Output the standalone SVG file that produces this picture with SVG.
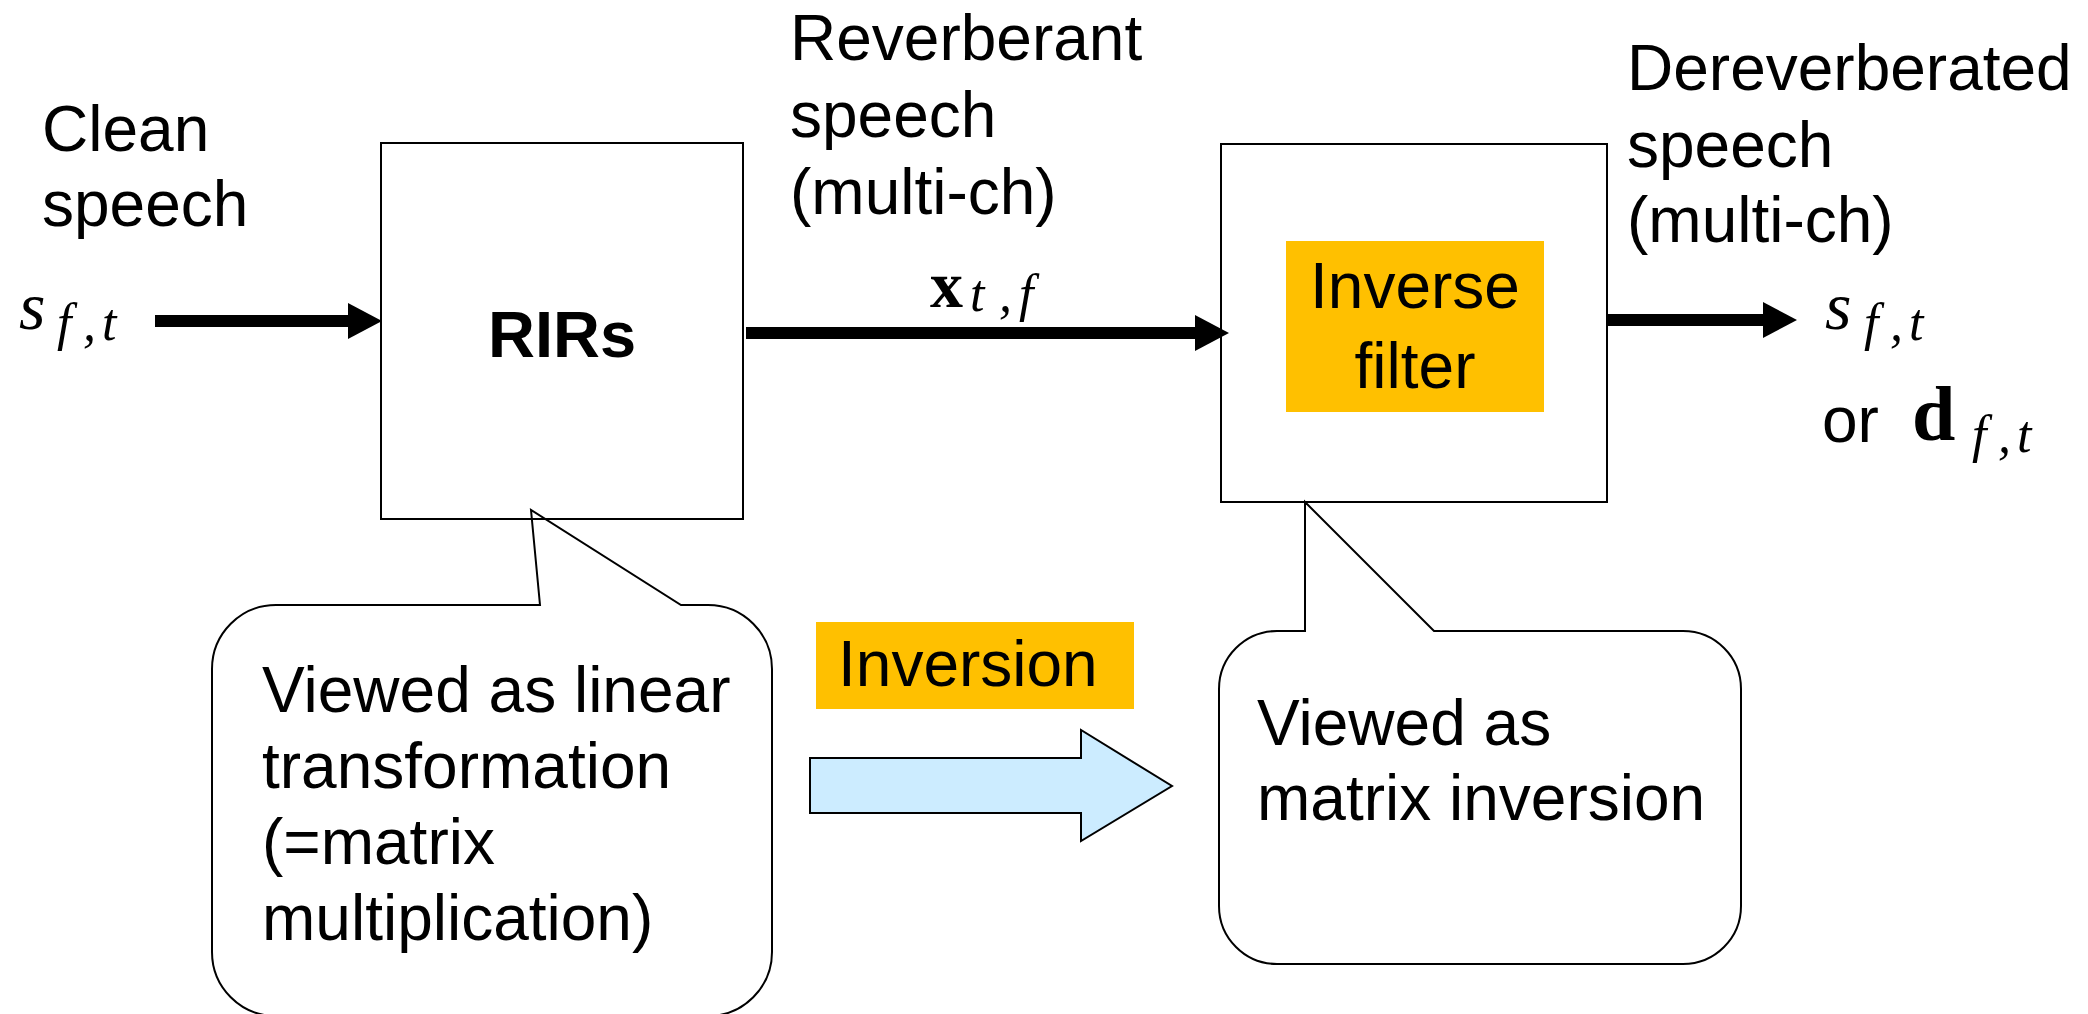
<svg xmlns="http://www.w3.org/2000/svg" width="2088" height="1014" viewBox="0 0 2088 1014">
  <style>
    .lbl { font-family: "Liberation Sans", Arial, sans-serif; font-size: 64px; fill: #000; }
    .bold { font-weight: bold; font-size: 65px; }
    .mi { font-family: "Liberation Serif", "Times New Roman", serif; font-style: italic; fill: #000; }
    .mb { font-family: "Liberation Serif", "Times New Roman", serif; font-weight: bold; fill: #000; }
    .sub { font-size: 52px; }
    .box { fill: none; stroke: #000; stroke-width: 2; }
    .bubble { fill: #fff; stroke: #000; stroke-width: 2; stroke-linejoin: miter; }
    .hl { fill: #FFC000; }
    .flow { stroke: #000; stroke-width: 12; fill: none; marker-end: url(#head); }
  </style>
  <defs>
    <marker id="head" markerUnits="userSpaceOnUse" markerWidth="36" markerHeight="36" refX="0" refY="18" orient="auto">
      <path d="M0,0 L34,18 L0,36 Z" fill="#000"/>
    </marker>
  </defs>

  <rect width="2088" height="1014" fill="#fff"/>

  <!-- callout bubbles (drawn under the boxes so the box edges stay visible) -->
  <g id="callout-linear">
    <path class="bubble" d="M276,605 L540,605 L531,510 L681,605 L708,605 A64,64 0 0 1 772,669 L772,952 A64,64 0 0 1 708,1016 L276,1016 A64,64 0 0 1 212,952 L212,669 A64,64 0 0 1 276,605 Z"/>
    <text class="lbl" x="262" y="712">Viewed as linear</text>
    <text class="lbl" x="262" y="788">transformation</text>
    <text class="lbl" x="262" y="864">(=matrix</text>
    <text class="lbl" x="262" y="940">multiplication)</text>
  </g>

  <g id="callout-inversion">
    <path class="bubble" d="M1277,631 L1305,631 L1305,502 L1434,631 L1683,631 A58,58 0 0 1 1741,689 L1741,906 A58,58 0 0 1 1683,964 L1277,964 A58,58 0 0 1 1219,906 L1219,689 A58,58 0 0 1 1277,631 Z"/>
    <text class="lbl" x="1257" y="745">Viewed as</text>
    <text class="lbl" x="1257" y="820">matrix inversion</text>
  </g>

  <!-- processing blocks -->
  <g id="rirs">
    <rect class="box" x="381" y="143" width="362" height="376"/>
    <text class="lbl bold" x="562" y="357" text-anchor="middle">RIRs</text>
  </g>

  <g id="inverse-filter">
    <rect class="box" x="1221" y="144" width="386" height="358"/>
    <rect class="hl" x="1286" y="241" width="258" height="171"/>
    <text class="lbl" x="1415" y="308" text-anchor="middle" font-size="67">Inverse</text>
    <text class="lbl" x="1415" y="388" text-anchor="middle" font-size="67">filter</text>
  </g>

  <!-- signal labels -->
  <g id="clean">
    <text class="lbl" x="42" y="151">Clean</text>
    <text class="lbl" x="42" y="226">speech</text>
    <text class="mi" x="19" y="329" font-size="68">s</text>
    <text class="mi sub" y="340"><tspan x="57">f</tspan><tspan x="83">,</tspan><tspan x="102">t</tspan></text>
  </g>

  <g id="reverberant">
    <text class="lbl" x="790" y="60">Reverberant</text>
    <text class="lbl" x="790" y="137">speech</text>
    <text class="lbl" x="790" y="214">(multi-ch)</text>
    <text class="mb" x="930" y="307" font-size="66">x</text>
    <text class="mi sub" y="311"><tspan x="970">t</tspan><tspan x="999">,</tspan><tspan x="1019">f</tspan></text>
  </g>

  <g id="dereverberated">
    <text class="lbl" x="1627" y="90">Dereverberated</text>
    <text class="lbl" x="1627" y="167">speech</text>
    <text class="lbl" x="1627" y="242">(multi-ch)</text>
    <text class="mi" x="1825" y="329" font-size="68">s</text>
    <text class="mi sub" y="340"><tspan x="1864">f</tspan><tspan x="1890">,</tspan><tspan x="1909">t</tspan></text>
    <text class="lbl" x="1822" y="442">or</text>
    <text class="mb" x="1912" y="440" font-size="78">d</text>
    <text class="mi sub" y="452"><tspan x="1972">f</tspan><tspan x="1998">,</tspan><tspan x="2017">t</tspan></text>
  </g>

  <!-- inversion step -->
  <g id="inversion">
    <rect class="hl" x="816" y="622" width="318" height="87"/>
    <text class="lbl" x="838" y="686" font-size="63">Inversion</text>
    <path d="M810,758 L1081,758 L1081,730 L1172,786 L1081,841 L1081,813 L810,813 Z" fill="#CCECFF" stroke="#000" stroke-width="2"/>
  </g>

  <!-- signal flow connectors -->
  <g id="connectors">
    <line class="flow" x1="155" y1="321" x2="348" y2="321"/>
    <line class="flow" x1="746" y1="333" x2="1195" y2="333"/>
    <line class="flow" x1="1607" y1="320" x2="1763" y2="320"/>
  </g>
</svg>
